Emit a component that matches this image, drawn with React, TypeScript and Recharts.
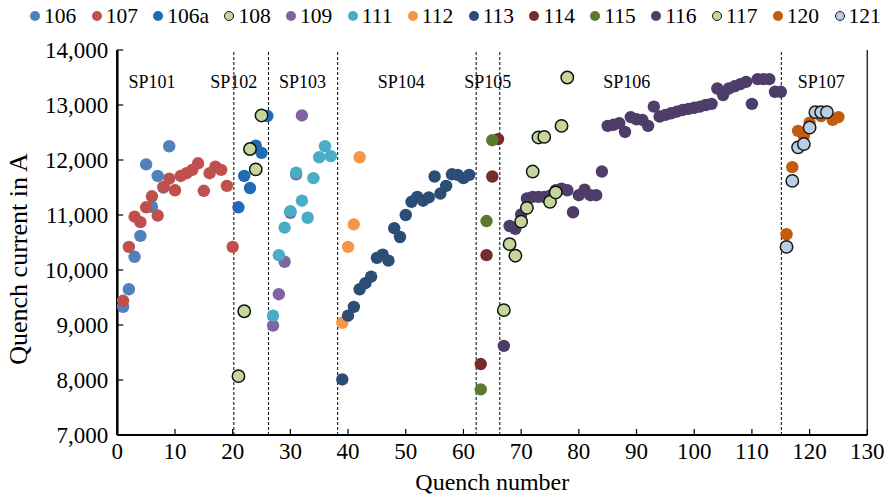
import { ScatterChart, Scatter, XAxis, YAxis, ReferenceLine, ReferenceDot, Label } from "recharts";

// ─── Data: [quench number, quench current in A] ─────────────
type Pt = [number, number];

const s106: Pt[] = [[1, 9330], [2, 9650], [3, 10240], [4, 10620], [5, 11920], [6, 11150], [7, 11710], [8, 11500], [9, 12250]];
const s107: Pt[] = [
  [1, 9440], [2, 10420], [3, 10970], [4, 10870], [5, 11140], [6, 11340], [7, 10990], [8, 11510], [9, 11660], [10, 11450],
  [11, 11710], [12, 11760], [13, 11820], [14, 11940], [15, 11440], [16, 11760], [17, 11880], [18, 11820], [19, 11530], [20, 10420],
];
const s106a: Pt[] = [[21, 11140], [22, 11710], [23, 11490], [24, 12260], [25, 12130], [26, 12800]];
const s108: Pt[] = [[21, 8070], [22, 9250], [23, 12200], [24, 11830], [25, 12810]];
const s109: Pt[] = [[27, 8990], [28, 9560], [29, 10150], [30, 11040], [31, 11740], [32, 12810]];
const s111: Pt[] = [[27, 9170], [28, 10270], [29, 10770], [30, 11070], [31, 11770], [32, 11260], [33, 10950], [34, 11670], [35, 12050], [36, 12250], [37, 12070]];
const s112: Pt[] = [[39, 9040], [40, 10420], [41, 10830], [42, 12050]];
const s113: Pt[] = [
  [39, 8010], [40, 9170], [41, 9330], [42, 9650], [43, 9760], [44, 9880], [45, 10220], [46, 10280], [47, 10170], [48, 10760],
  [49, 10600], [50, 11000], [51, 11240], [52, 11330], [53, 11260], [54, 11320], [55, 11700], [56, 11390], [57, 11530], [58, 11740],
  [59, 11730], [60, 11670], [61, 11730],
];
const s114: Pt[] = [[63, 8290], [64, 10270], [65, 11700], [66, 12380]];
const s115: Pt[] = [[63, 7830], [64, 10890], [65, 12360]];
const s116: Pt[] = [
  [67, 8620], [68, 10800], [69, 10750], [70, 11010], [71, 11300], [72, 11330], [73, 11330], [74, 11330], [75, 11350], [76, 11450],
  [77, 11480], [78, 11450], [79, 11050], [80, 11360], [81, 11460], [82, 11360], [83, 11360], [84, 11790], [85, 12620], [86, 12640],
  [87, 12670], [88, 12510], [89, 12780], [90, 12740], [91, 12730], [92, 12620], [93, 12970], [94, 12790], [95, 12820], [96, 12850],
  [97, 12880], [98, 12910], [99, 12930], [100, 12950], [101, 12970], [102, 13000], [103, 13020], [104, 13300], [105, 13180], [106, 13300],
  [107, 13340], [108, 13380], [109, 13420], [110, 13020], [111, 13470], [112, 13470], [113, 13470], [114, 13240], [115, 13240],
];
const s117: Pt[] = [[67, 9270], [68, 10470], [69, 10260], [70, 10880], [71, 11130], [72, 11790], [73, 12410], [74, 12420], [75, 11240], [76, 11410], [77, 12620], [78, 13500]];
const s120: Pt[] = [[116, 10650], [117, 11870], [118, 12530], [119, 12440], [120, 12680], [122, 12800], [124, 12730], [125, 12780]];
const s121: Pt[] = [[116, 10420], [117, 11620], [118, 12230], [119, 12290], [120, 12590], [121, 12870], [122, 12870], [123, 12870]];

const xTicks = [0, 10, 20, 30, 40, 50, 60, 70, 80, 90, 100, 110, 120, 130];
const yTicks = [7000, 8000, 9000, 10000, 11000, 12000, 13000, 14000];

// dashed separators between the SP blocks, and the block names
const dividers = [20.2, 26.2, 38.2, 62.2, 66.3, 115.1];
const spNames = ["SP101", "SP102", "SP103", "SP104", "SP105", "SP106", "SP107"];
const spCenters = [6, 20.2, 32.1, 49.2, 64.2, 88.3, 122];

// ─── Series styling ─────────────────────────────────────────
const SERIES = [
  { name: "106", data: s106, fill: "#4f81bd" },
  { name: "107", data: s107, fill: "#c0504d" },
  { name: "106a", data: s106a, fill: "#1f6cb5" },
  { name: "108", data: s108, fill: "#c3d69b", stroke: "#111" },
  { name: "109", data: s109, fill: "#8064a2" },
  { name: "111", data: s111, fill: "#4bacc6" },
  { name: "112", data: s112, fill: "#f79646" },
  { name: "113", data: s113, fill: "#2c4d75" },
  { name: "114", data: s114, fill: "#772c2a" },
  { name: "115", data: s115, fill: "#5a7a2e" },
  { name: "116", data: s116, fill: "#4e3d68" },
  { name: "117", data: s117, fill: "#c3d69b", stroke: "#111" },
  { name: "120", data: s120, fill: "#c55a11" },
  { name: "121", data: s121, fill: "#b9cde5", stroke: "#1a1a1a" },
];

const FONT = "'Liberation Serif', 'Times New Roman', serif";
const tickStyle = { fill: "#000", fontSize: 23, fontFamily: FONT };

function Legend() {
  return (
    <div
      style={{
        position: "absolute", top: 2, left: 30, width: 860, display: "flex", alignItems: "center",
        fontFamily: FONT, fontSize: 21.5, color: "#000", lineHeight: "28px", whiteSpace: "nowrap",
      }}
    >
      {SERIES.map((s, k) => (
        <div key={s.name} style={{ display: "flex", alignItems: "center", flexShrink: 0, marginRight: k < SERIES.length - 1 ? 15.4 : 0 }}>
          <span
            style={{
              display: "inline-block", width: s.stroke ? 8 : 10, height: s.stroke ? 8 : 10, borderRadius: "50%",
              background: s.fill, border: s.stroke ? `1px solid ${s.stroke}` : "none", marginRight: 4,
            }}
          />
          <span style={{ fontFamily: FONT }}>{s.name}</span>
        </div>
      ))}
    </div>
  );
}

export default function App() {
  return (
    <div style={{ position: "relative", width: 890, height: 498, background: "#fff" }}>
      <style>{`body{margin:0}`}</style>
      <ScatterChart width={890} height={498} margin={{ top: 50, right: 22.7, bottom: 0, left: 0 }}>
        <XAxis
          type="number" dataKey="q" domain={[0, 130]} ticks={xTicks} interval={0} height={63}
          axisLine={{ stroke: "#000", strokeWidth: 2 }} tickLine={{ stroke: "#000", strokeWidth: 1.2 }}
          tickSize={-6} tickMargin={14} tick={tickStyle}
        >
          <Label value="Quench number" position="insideBottom" offset={8} style={{ ...tickStyle, fontSize: 24 }} />
        </XAxis>
        <YAxis
          type="number" dataKey="i" domain={[7000, 14000]} ticks={yTicks} interval={0} width={117.3}
          axisLine={{ stroke: "#000", strokeWidth: 2.5 }} tickLine={{ stroke: "#000", strokeWidth: 1.2 }}
          tickSize={-6} tickMargin={15} tick={tickStyle}
          tickFormatter={(v: number) => v.toLocaleString("en-US")}
        >
          <Label
            content={() => (
              <text x={27} y={259} transform="rotate(-90 27 259)" textAnchor="middle" fontFamily={FONT} fontSize={26} fill="#000">
                Quench current in A
              </text>
            )}
          />
        </YAxis>
        <ReferenceLine x={130} stroke="#333" strokeWidth={1.5} />
        {dividers.map((d) => (
          <ReferenceLine key={d} x={d} stroke="#000" strokeWidth={1} strokeDasharray="3 2" />
        ))}
        {spNames.map((n, k) => (
          <ReferenceDot
            key={n} x={spCenters[k]} y={13420} r={0} fill="none" stroke="none"
            label={{ value: n, position: "center", fontSize: 18, fontFamily: FONT, fill: "#000" }}
          />
        ))}
        {SERIES.map((s) => (
          <Scatter
            key={s.name}
            name={s.name}
            data={s.data.map(([q, i]) => ({ q, i }))}
            isAnimationActive={false}
            shape={(p: any) => (
              <circle cx={p.cx} cy={p.cy} r={6.2} fill={s.fill} stroke={s.stroke ?? "none"} strokeWidth={s.stroke ? 1.5 : 0} />
            )}
          />
        ))}
      </ScatterChart>
      <Legend />
    </div>
  );
}
